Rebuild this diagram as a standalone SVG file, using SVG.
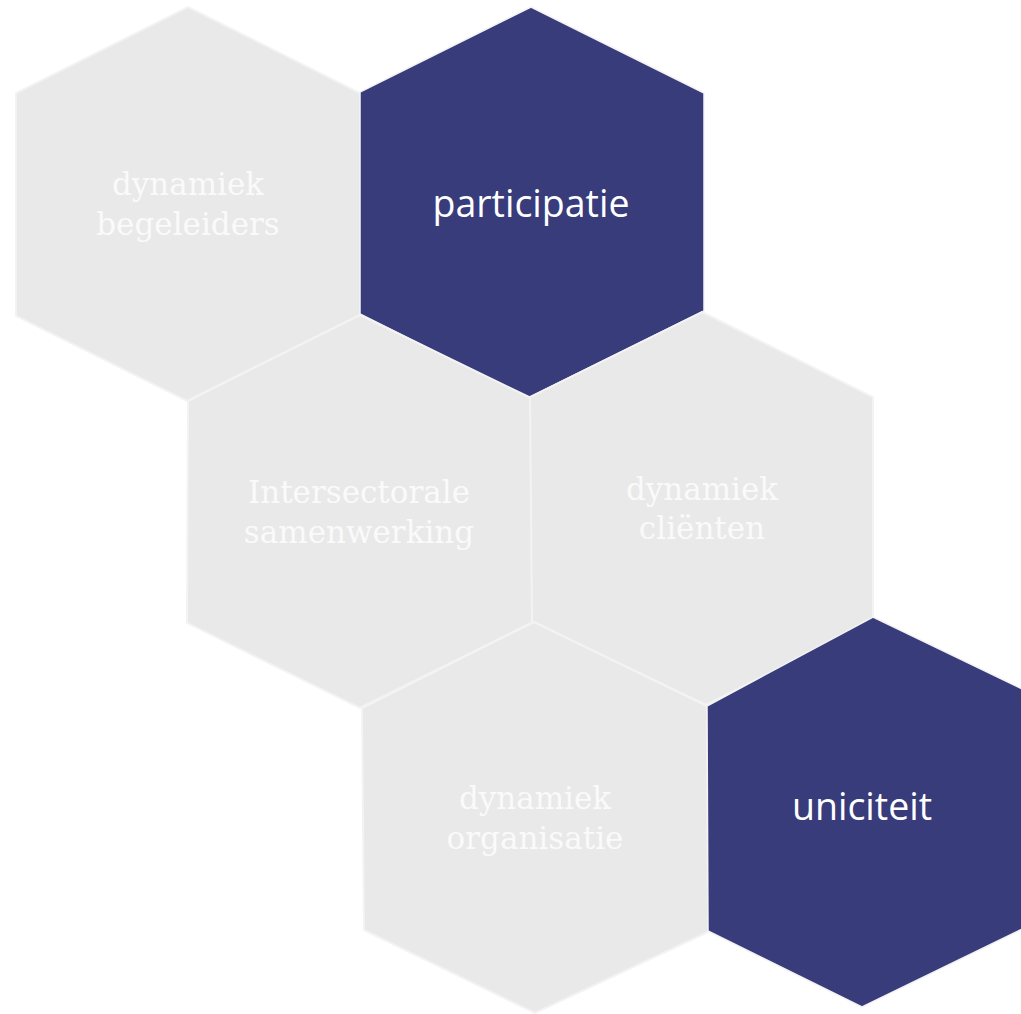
<svg xmlns="http://www.w3.org/2000/svg" width="1021" height="1014" viewBox="0 0 1021 1014">
<style>
.grey{fill:#e9e9e9;stroke:#f3f3f3;stroke-width:2;stroke-linejoin:miter}
.dark{fill:#383c7b;stroke:#f3f3f3;stroke-width:1.5}
.st{font-family:"DejaVu Serif","Liberation Serif",serif;font-size:31px;fill:#fafafa;text-anchor:middle}
.sa{font-family:"Open Sans","Noto Sans",sans-serif;font-size:37.5px;fill:#ffffff;text-anchor:middle}
</style>
<rect width="1021" height="1014" fill="#ffffff"/>
<g id="connectors"></g>
<g id="dynamiek-begeleiders">
<polygon class="grey" points="188,7 360,93 360,315 187,401 16,316 16,93"/>
<text class="st" x="188" y="195">dynamiek</text>
<text class="st" x="188" y="235">begeleiders</text>
</g>
<g id="participatie">
<polygon class="dark" points="531,7 704,93 704,311 528,398 360,314 360,92"/>
<text class="sa" x="531" y="217">participatie</text>
</g>
<g id="intersectorale-samenwerking">
<polygon class="grey" points="360,315 531,398 533,622 360,708 187,623 188,401"/>
<text class="st" x="359" y="503">Intersectorale</text>
<text class="st" x="359" y="543">samenwerking</text>
</g>
<g id="dynamiek-clienten">
<polygon class="grey" points="702,312 873,397 873,621 706,705 532,622 530,397"/>
<text class="st" x="702" y="500">dynamiek</text>
<text class="st" x="702" y="539">cliënten</text>
</g>
<g id="dynamiek-organisatie">
<polygon class="grey" points="534,622 707,706 708,932 535,1013 364,930 362,708"/>
<text class="st" x="535" y="809">dynamiek</text>
<text class="st" x="535" y="849">organisatie</text>
</g>
<g id="uniciteit">
<polygon class="dark" points="873,617 1045,700 1045,918 862,1007 708,931 707,706"/>
<text class="sa" x="862" y="820">uniciteit</text>
</g>
</svg>
